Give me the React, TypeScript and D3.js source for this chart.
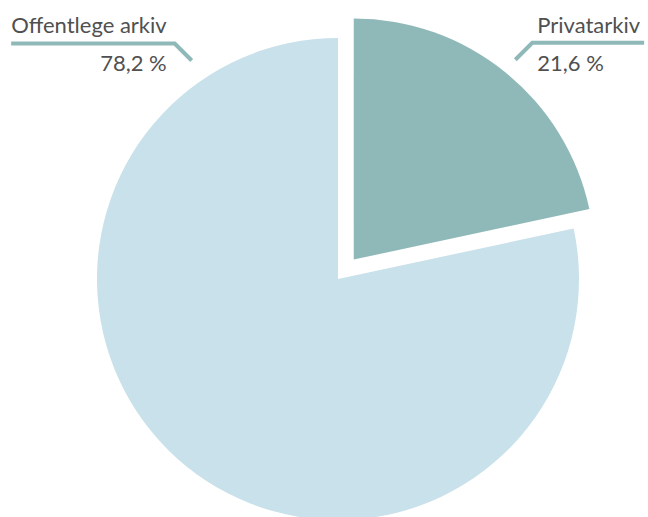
import React, { useEffect, useRef } from 'react';
import * as d3 from 'd3';

const categories = ['Privatarkiv', 'Offentlege arkiv'];
const shares = [21.6, 78.2];
const valueLabels = ['21,6 %', '78,2 %'];
const colors = ['#8fb9b8', '#c9e1ea'];

const W = 648;
const H = 517;

const App = () => {
  const svgRef = useRef<SVGSVGElement>(null);

  useEffect(() => {
    const svg = d3.select(svgRef.current);
    svg.selectAll('*').remove();

    const cx = 338;
    const cy = 279;
    const radius = 241;
    const explode = 25;

    const pie = d3.pie<number>().sort(null).value(d => d);
    const arcs = pie(shares);
    const arc = d3.arc<d3.PieArcDatum<number>>().innerRadius(0).outerRadius(radius);

    const mid = (a: d3.PieArcDatum<number>) => (a.startAngle + a.endAngle) / 2;
    const offset = (i: number) => {
      if (i !== 0) return [0, 0];
      const m = mid(arcs[i]);
      return [explode * Math.sin(m), -explode * Math.cos(m)];
    };

    const g = svg.append('g').attr('transform', `translate(${cx},${cy})`);

    g.selectAll('path.slice')
      .data(arcs)
      .enter()
      .append('path')
      .attr('class', 'slice')
      .attr('transform', (d, i) => `translate(${offset(i)[0]},${offset(i)[1]})`)
      .attr('d', arc)
      .attr('fill', (d, i) => colors[i]);

    // labels: private at its mid angle, public pushed up to the top-left
    const labelAngles = [mid(arcs[0]), -0.59];
    const labelR = [radius + 16, radius + 22];
    const fontFamily = 'Lato, "Noto Sans", sans-serif';

    arcs.forEach((a, i) => {
      const [ox, oy] = offset(i);
      const ang = labelAngles[i];
      const ax = ox + labelR[i] * Math.sin(ang);
      const ay = oy - labelR[i] * Math.cos(ang);
      const right = Math.sin(ang) > 0;
      const ex = ax + (right ? 17 : -17);
      const ey = ay - 17;
      const tx = right ? ex + 5 : ex - 8;

      const name = g.append('text')
        .attr('x', tx)
        .attr('y', ey - 10)
        .attr('text-anchor', right ? 'start' : 'end')
        .attr('fill', '#505050')
        .style('font-family', fontFamily)
        .style('font-size', '22px')
        .text(categories[i]);

      g.append('text')
        .attr('x', tx)
        .attr('y', ey + 28)
        .attr('text-anchor', right ? 'start' : 'end')
        .attr('fill', '#505050')
        .style('font-family', fontFamily)
        .style('font-size', '22px')
        .text(valueLabels[i]);

      const w = (name.node() as SVGTextElement).getComputedTextLength();
      const lx = right ? Math.min(tx + w + 4, W - cx) : tx - w;

      g.insert('path', 'text')
        .attr('d', d3.line()([[ax, ay], [ex, ey], [lx, ey]]))
        .attr('fill', 'none')
        .attr('stroke', colors[0])
        .attr('stroke-width', 4);
    });
  }, []);

  return (
    <svg
      ref={svgRef}
      width={W}
      height={H}
      style={{ position: 'absolute', left: 0, top: 0, background: '#fff' }}
    />
  );
};

export default App;
